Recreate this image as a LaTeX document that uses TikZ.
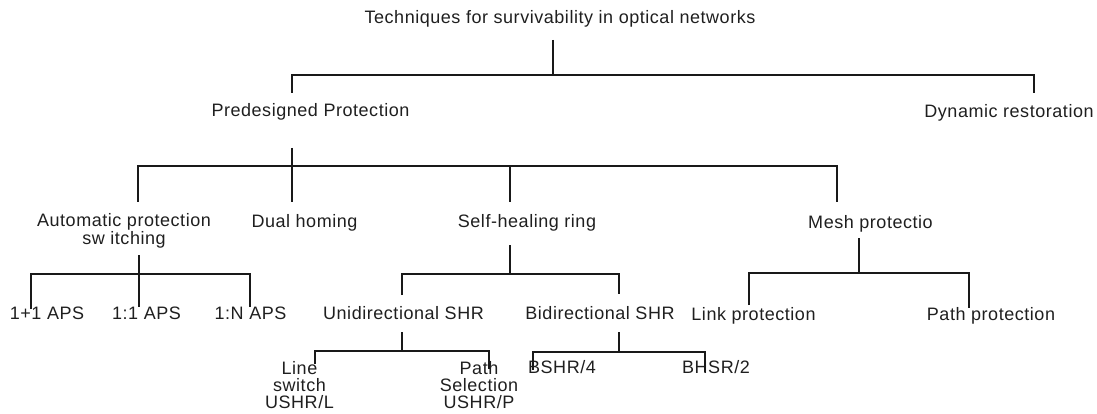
\documentclass[tikz,border=0pt]{standalone}
\usepackage{fontspec}
\setmainfont{Liberation Sans}[LetterSpace=3]
\begin{document}
\begin{tikzpicture}[x=1pt,y=-1pt,
  lbl/.style={inner sep=0pt, text=black!88, font=\fontsize{18}{15}\selectfont},
  lbltwo/.style={lbl, align=center, font=\fontsize{18}{18}\selectfont},
  lblthree/.style={lbl, align=center, font=\fontsize{18}{17}\selectfont},
  wire/.style={draw=black!90, line width=1.1pt}]
\useasboundingbox (0,0) rectangle (1097,414);

% ---- labels ----
\node[lbl, anchor=base] (root) at (560,23.5) {Techniques for survivability in optical networks};
\node[lbl, anchor=base] (pred) at (310.5,116.5) {Predesigned Protection};
\node[lbl, anchor=base] (dyn)  at (1009,117.5) {Dynamic restoration};

\node[lbltwo] (aps) at (124,231) {Automatic protection\\sw itching};
\node[lbl, anchor=base] (dual) at (304.5,227.5) {Dual homing};
\node[lbl, anchor=base] (shr)  at (527,227.5) {Self-healing ring};
\node[lbl, anchor=base] (mesh) at (870.5,228.5) {Mesh protectio};

\node[lbl, anchor=base] (aps11) at (47,319) {1+1 APS};
\node[lbl, anchor=base] (aps1)  at (146.5,319) {1:1 APS};
\node[lbl, anchor=base] (apsn)  at (250.5,319) {1:N APS};
\node[lbl, anchor=base] (uni)   at (403.5,319.5) {Unidirectional SHR};
\node[lbl, anchor=base] (bi)    at (600,319.5) {Bidirectional SHR};
\node[lbl, anchor=base] (link)  at (753.5,320.5) {Link protection};
\node[lbl, anchor=base] (pathp) at (991,320.5) {Path protection};

\node[lblthree] (lsw)  at (299.5,385) {Line\\switch\\USHR/L};
\node[lblthree] (psel) at (479,385) {Path\\Selection\\USHR/P};
\node[lbl, anchor=base] (bshr) at (562,373.5) {BSHR/4};
\node[lbl, anchor=base] (bhsr) at (716,373.5) {BHSR/2};

% ---- connector ports ----
\coordinate (root-out) at (553,40);   \coordinate (root-bar) at (553,75);
\coordinate (pred-in)  at (292,93);   \coordinate (dyn-in)   at (1034,93);

\coordinate (pred-out) at (292,148);  \coordinate (pred-bar) at (292,166);
\coordinate (aps-in)   at (138,202);  \coordinate (dual-in)  at (292,202);
\coordinate (shr-in)   at (510,202);  \coordinate (mesh-in)  at (837,202);

\coordinate (aps-out)  at (139,255);  \coordinate (aps-bar)  at (139,274);
\coordinate (aps11-in) at (31,309);   \coordinate (aps1-in)  at (139,307);
\coordinate (apsn-in)  at (250,307);

\coordinate (shr-out)  at (510,245);  \coordinate (shr-bar)  at (510,274);
\coordinate (uni-in)   at (402,295);  \coordinate (bi-in)    at (619,294);

\coordinate (mesh-out) at (859,238);  \coordinate (mesh-bar) at (859,273);
\coordinate (link-in)  at (749,305);  \coordinate (pathp-in) at (969,308);

\coordinate (uni-out)  at (402,332);  \coordinate (uni-bar)  at (402,351);
\coordinate (lsw-in)   at (315,364);  \coordinate (psel-in)  at (489,369);

\coordinate (bi-out)   at (619,332);  \coordinate (bi-bar)   at (619,352);
\coordinate (bshr-in)  at (533,370);  \coordinate (bhsr-in)  at (705,372);

% ---- tree connectors ----
\draw[wire] (root-out) -- (root-bar);
\draw[wire] (pred-in) |- (root-bar) -| (dyn-in);

\draw[wire] (pred-out) -- (pred-bar);
\draw[wire] (aps-in) |- (pred-bar) -| (mesh-in);
\draw[wire] (pred-bar) -- (dual-in);
\draw[wire] (shr-in) -- (shr-in |- pred-bar);

\draw[wire] (aps-out) -- (aps-bar);
\draw[wire] (aps11-in) |- (aps-bar) -| (apsn-in);
\draw[wire] (aps-bar) -- (aps1-in);

\draw[wire] (shr-out) -- (shr-bar);
\draw[wire] (uni-in) |- (shr-bar) -| (bi-in);

\draw[wire] (mesh-out) -- (mesh-bar);
\draw[wire] (link-in) |- (mesh-bar) -| (pathp-in);

\draw[wire] (uni-out) -- (uni-bar);
\draw[wire] (lsw-in) |- (uni-bar) -| (psel-in);

\draw[wire] (bi-out) -- (bi-bar);
\draw[wire] (bshr-in) |- (bi-bar) -| (bhsr-in);
\end{tikzpicture}
\end{document}
